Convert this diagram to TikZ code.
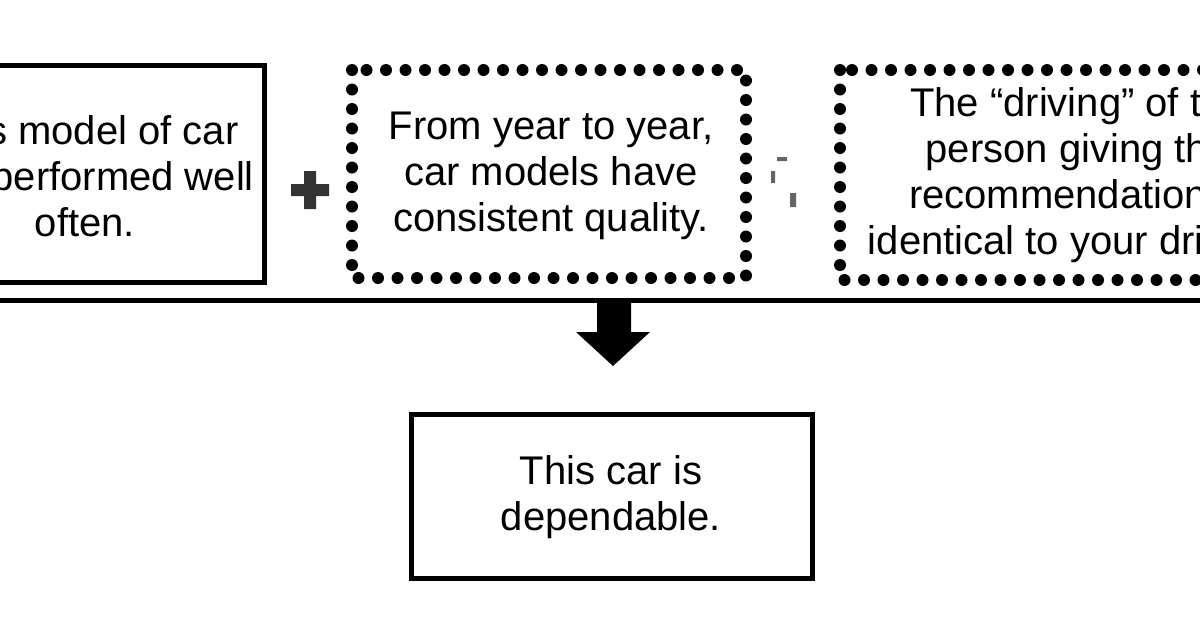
\documentclass[tikz,border=0pt]{standalone}
\usepackage{fontspec}
\setmainfont{Liberation Sans}
\begin{document}
\begin{tikzpicture}[x=1pt,y=-1pt,
  solidbox/.style={draw,line width=5pt},
  dotbox/.style={draw,line width=12pt,line cap=round,dash pattern=on 0pt off 19.5pt},
  txt/.style={align=center,font=\fontsize{40}{46}\selectfont}]
\useasboundingbox (0,0) rectangle (1200,630);
\begin{scope}
\clip (0,0) rectangle (1200,630);
\draw[solidbox] (-60,65) rectangle (264,282);
\node[txt] (t1) at (85,176) {This model of car\\has performed well\\often.};
\draw[dotbox] (352,70) rectangle (746,278);
\node[txt] (t2) at (551,176) {From year to year,\\car models have\\consistent quality.};
\draw[dotbox] (840,70) rectangle (1260,280);
\node[txt] (t3) at (1078,175) {The “driving” of the\\person giving the\\recommendation is\\identical to your driving.};
\draw[line width=5pt] (-5,300) -- (1205,300);
\end{scope}
\fill[black!80] (304,171) rectangle (316,209) (291,184) rectangle (329,196);
\fill[black!60] (777,157) rectangle (787,161) (771,171) rectangle (775,183) (790,193) rectangle (796,207);
\coordinate (b) at (613,366);
\fill (597,302) rectangle (631,332) (576,332) -- (650,332) -- (b) -- cycle;
\draw[solidbox] (411,414) rectangle (812,578);
\node[txt] (t4) at (611,497) {This car is\\dependable.};
\end{tikzpicture}
\end{document}
